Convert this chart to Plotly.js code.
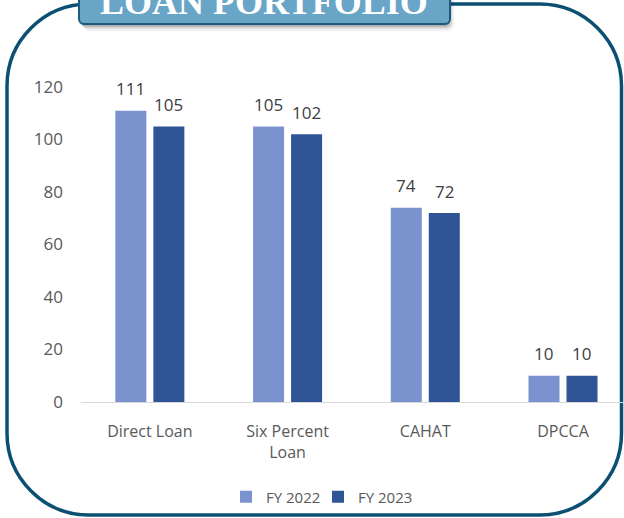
<!DOCTYPE html>
<html>
<head>
<meta charset="utf-8">
<script src="https://cdn.plot.ly/plotly-3.0.1.min.js"></script>
<style>html,body{margin:0;padding:0;background:#fff;}#chart{width:624px;height:518px;}</style>
</head>
<body>
<div id="chart"></div>
<script>
const categories = ["Direct Loan", "Six Percent<br>Loan", "CAHAT", "DPCCA"];
const seriesNames = ["FY 2022", "FY 2023"];
const fy2022 = [111, 105, 74, 10];
const fy2023 = [105, 102, 72, 10];
const yTicks = [0, 20, 40, 60, 80, 100, 120];
const titleText = "LOAN PORTFOLIO";

const W = 624, H = 518, L = 81, R = 0, T = 87, B = 116;
const PW = W - L - R, PH = H - T - B;
const X = px => (px - L) / PW;
const Y = py => (H - B - py) / PH;

function roundRect(x0, y0, x1, y1, r) {
  const k = 0.5523 * r;
  const p = (x, y) => X(x) + "," + Y(y);
  return "M" + p(x0 + r, y0) + " L" + p(x1 - r, y0) +
    " C" + p(x1 - r + k, y0) + " " + p(x1, y0 + r - k) + " " + p(x1, y0 + r) +
    " L" + p(x1, y1 - r) +
    " C" + p(x1, y1 - r + k) + " " + p(x1 - r + k, y1) + " " + p(x1 - r, y1) +
    " L" + p(x0 + r, y1) +
    " C" + p(x0 + r - k, y1) + " " + p(x0, y1 - r + k) + " " + p(x0, y1 - r) +
    " L" + p(x0, y0 + r) +
    " C" + p(x0, y0 + r - k) + " " + p(x0 + r - k, y0) + " " + p(x0 + r, y0) + " Z";
}

const colors = ["#7a93cf", "#2f5597"];
const legendIds = ["legend", "legend2"];
const traces = [fy2022, fy2023].map((vals, i) => ({
  type: "bar",
  name: seriesNames[i],
  x: categories,
  y: vals,
  legend: legendIds[i],
  marker: {color: colors[i], line: {width: 0}},
  hoverinfo: "none"
}));

const labelAnns = [];
[fy2022, fy2023].forEach((vals, i) => {
  vals.forEach((v, j) => {
    labelAnns.push({
      x: categories[j], y: v, xref: "x", yref: "y",
      text: String(v), showarrow: false,
      xshift: i === 0 ? -19 : 19, yshift: 22,
      yanchor: "middle", xanchor: "center",
      font: {family: "Open Sans", size: 17, color: "#404040"}
    });
  });
});

const shapes = [
  {type: "path", xref: "paper", yref: "paper", layer: "below",
   path: roundRect(7, 4, 621.5, 515, 82),
   line: {color: "#0b5073", width: 3.5}, fillcolor: "rgba(0,0,0,0)"},
  {type: "path", xref: "paper", yref: "paper", layer: "below",
   path: roundRect(83, -10, 454, 31, 7),
   line: {width: 0}, fillcolor: "rgba(0,0,0,0.06)"},
  {type: "path", xref: "paper", yref: "paper", layer: "below",
   path: roundRect(82, -10, 452, 28.5, 6),
   line: {width: 0}, fillcolor: "rgba(0,0,0,0.12)"},
  {type: "path", xref: "paper", yref: "paper", layer: "below",
   path: roundRect(80, -10, 450, 26.5, 5),
   line: {width: 0}, fillcolor: "rgba(0,0,0,0.18)"},
  {type: "path", xref: "paper", yref: "paper", layer: "below",
   path: roundRect(79, -10, 450, 24, 5),
   line: {color: "#1d5b7c", width: 2}, fillcolor: "#69a5c6"}
];

const annotations = labelAnns.concat([{
  xref: "paper", yref: "paper", x: X(263.5), y: Y(2),
  text: "<b>" + titleText + "</b>", showarrow: false,
  xanchor: "center", yanchor: "middle",
  font: {family: "Liberation Serif", size: 36, color: "#ffffff"}
}]);

const legendBase = {orientation: "h", yanchor: "middle", xanchor: "left",
  font: {family: "Open Sans", size: 15, color: "#595959"}, itemclick: false,
  bgcolor: "rgba(0,0,0,0)"};

const layout = {
  width: W, height: H,
  margin: {l: L, r: R, t: T, b: B, pad: 0},
  paper_bgcolor: "#ffffff", plot_bgcolor: "rgba(0,0,0,0)",
  barmode: "group", bargap: 0.448, bargroupgap: 0.184,
  showlegend: true,
  legend: Object.assign({}, legendBase, {x: X(226), y: Y(497)}),
  legend2: Object.assign({}, legendBase, {x: X(318), y: Y(497)}),
  xaxis: {
    type: "category", range: [-0.5, 3.443], fixedrange: true,
    showline: true, linecolor: "#d9d9d9", linewidth: 1,
    showgrid: false, zeroline: false, ticks: "",
    tickfont: {family: "Open Sans", size: 16, color: "#595959"},
    ticklabelstandoff: 15
  },
  yaxis: {
    range: [0, 120], tickvals: yTicks, ticktext: yTicks.map(String),
    showgrid: false, zeroline: false, showline: false, ticks: "",
    tickfont: {family: "Open Sans", size: 17, color: "#595959"},
    ticklabelstandoff: 17, fixedrange: true
  },
  shapes: shapes,
  annotations: annotations,
  font: {family: "Open Sans", color: "#595959"}
};

Plotly.newPlot("chart", traces, layout, {displayModeBar: false, staticPlot: true});
</script>
</body>
</html>
